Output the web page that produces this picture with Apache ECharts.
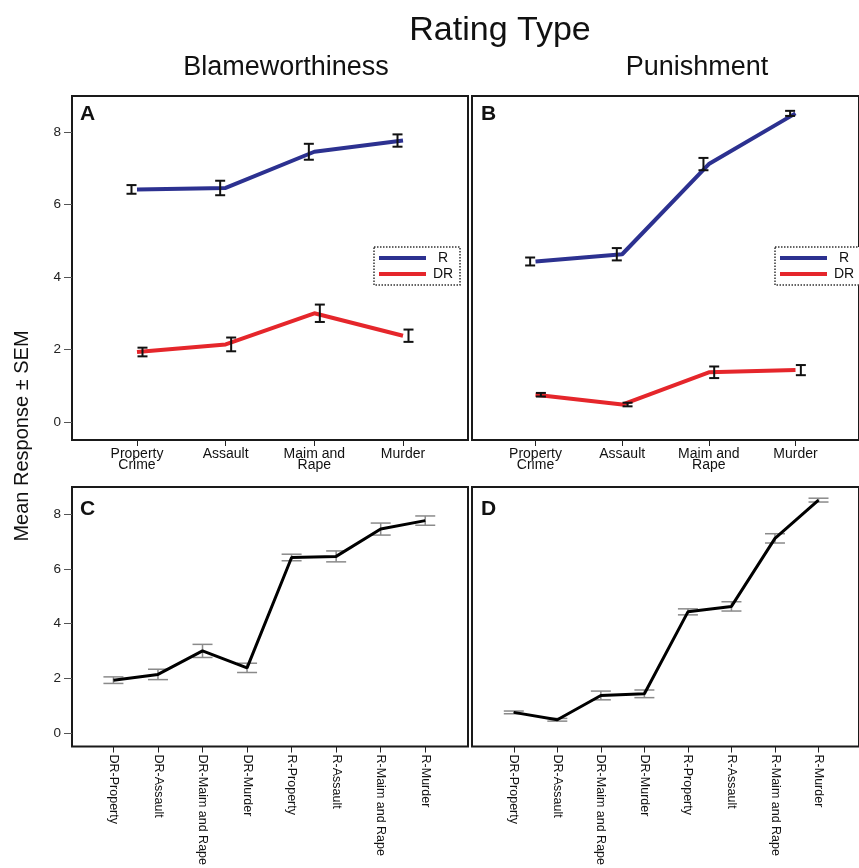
<!DOCTYPE html>
<html>
<head>
<meta charset="utf-8">
<script src="https://cdn.jsdelivr.net/npm/echarts@6/dist/echarts.min.js"></script>
<style>
html,body{margin:0;padding:0;background:#fff;}
#chart{width:859px;height:868px;}
</style>
</head>
<body>
<div id="chart"></div>
<script>
// ---- Data ----
const crimeCategories = ['Property\nCrime', 'Assault', 'Maim and\nRape', 'Murder'];
const comboCategories = ['DR-Property', 'DR-Assault', 'DR-Maim and Rape', 'DR-Murder',
                         'R-Property', 'R-Assault', 'R-Maim and Rape', 'R-Murder'];
const yTicks = [0, 2, 4, 6, 8];

const blameR      = [6.42, 6.46, 7.46, 7.77];
const blameRsem   = [0.12, 0.20, 0.22, 0.17];
const blameDR     = [1.93, 2.14, 3.00, 2.38];
const blameDRsem  = [0.12, 0.19, 0.24, 0.17];

const punR        = [4.43, 4.63, 7.12, 8.52];
const punRsem     = [0.11, 0.17, 0.17, 0.07];
const punDR       = [0.75, 0.48, 1.37, 1.43];
const punDRsem    = [0.05, 0.05, 0.16, 0.14];

// ---- Styling ----
const FONT = "'Liberation Sans', Arial, Helvetica, sans-serif";
const BLUE = '#2c3190';
const RED = '#e5262b';

const chart = echarts.init(document.getElementById('chart'), null, {renderer: 'canvas'});

function pts(vals) { return vals.map((v, i) => [i, v]); }
function errs(vals, sems, off) { return vals.map((v, i) => [i + off, v - sems[i], v + sems[i]]); }

function errSeries(name, idx, data, capW, color, lw) {
  return {
    name: name, type: 'custom', xAxisIndex: idx, yAxisIndex: idx, silent: true, z: 5,
    encode: {x: 0, y: [1, 2]},
    data: data,
    renderItem: function (params, api) {
      const x = api.value(0), lo = api.value(1), hi = api.value(2);
      const a = api.coord([x, lo]), b = api.coord([x, hi]);
      const h = capW / 2;
      const st = {stroke: color, lineWidth: lw};
      return {type: 'group', children: [
        {type: 'line', shape: {x1: a[0], y1: a[1], x2: b[0], y2: b[1]}, style: st},
        {type: 'line', shape: {x1: a[0] - h, y1: a[1], x2: a[0] + h, y2: a[1]}, style: st},
        {type: 'line', shape: {x1: b[0] - h, y1: b[1], x2: b[0] + h, y2: b[1]}, style: st}
      ]};
    }
  };
}

function lineSeries(name, idx, data, color, w, z) {
  return {
    name: name, type: 'line', xAxisIndex: idx, yAxisIndex: idx, data: data,
    symbol: 'none', showSymbol: false, z: z || 3,
    itemStyle: {color: color}, lineStyle: {color: color, width: w},
    emphasis: {disabled: true}
  };
}

function xAxisCrime(idx) {
  return {
    gridIndex: idx, type: 'value', min: -0.733, max: 3.733, position: 'bottom',
    splitLine: {show: false}, axisLine: {show: false, onZero: false},
    axisTick: {show: true, customValues: [0, 1, 2, 3], length: 6, lineStyle: {color: '#222', width: 1}},
    axisLabel: {customValues: [0, 1, 2, 3], formatter: v => crimeCategories[Math.round(v)],
      fontFamily: FONT, fontSize: 14, lineHeight: 11, color: '#111', margin: 9}
  };
}
function xAxisCombo(idx, mn, mx) {
  return {
    gridIndex: idx, type: 'value', min: mn, max: mx, position: 'bottom',
    splitLine: {show: false}, axisLine: {show: false, onZero: false},
    axisTick: {show: true, customValues: [0,1,2,3,4,5,6,7], length: 6, lineStyle: {color: '#222', width: 1}},
    axisLabel: {customValues: [0,1,2,3,4,5,6,7], formatter: v => comboCategories[Math.round(v)],
      rotate: -90, fontFamily: FONT, fontSize: 12.5, color: '#111', margin: 8}
  };
}
function yAxisDef(idx, showLabels) {
  return {
    gridIndex: idx, type: 'value', min: -0.5, max: 9, position: 'left',
    splitLine: {show: false}, axisLine: {show: false, onZero: false},
    axisTick: {show: showLabels, customValues: yTicks, length: 8, lineStyle: {color: '#555', width: 1}},
    axisLabel: {show: showLabels, customValues: yTicks, fontFamily: FONT, fontSize: 13.5, color: '#222', margin: 11}
  };
}

const gridStyle = {show: true, borderColor: '#1a1a1a', borderWidth: 2, backgroundColor: 'transparent', containLabel: false};

function legendDef(left) {
  return {
    data: ['R', 'DR'], orient: 'vertical', left: left, top: 247,
    icon: 'rect', itemWidth: 47, itemHeight: 4, itemGap: 2,
    padding: [4, 5, 4, 5],
    borderColor: '#333', borderWidth: 1.5, borderType: 'dotted', borderRadius: 0,
    backgroundColor: '#fff',
    selectedMode: false,
    formatter: '{a|{name}}',
    textStyle: {fontFamily: FONT, fontSize: 14, color: '#111',
      rich: {a: {width: 24, align: 'center', fontFamily: FONT, fontSize: 14, lineHeight: 16, color: '#111'}}}
  };
}

const comboBlame = blameDR.concat(blameR);
const comboBlameSem = blameDRsem.concat(blameRsem);
const comboPun = punDR.concat(punR);
const comboPunSem = punDRsem.concat(punRsem);

const option = {
  animation: false,
  backgroundColor: '#fff',
  textStyle: {fontFamily: FONT},
  title: [
    {text: 'Rating Type', left: 500, top: 14, textAlign: 'center', padding: 0,
      textStyle: {fontFamily: FONT, fontSize: 34, fontWeight: 'normal', color: '#111'}},
    {text: 'Blameworthiness', left: 286, top: 54, textAlign: 'center', padding: 0,
      textStyle: {fontFamily: FONT, fontSize: 27, fontWeight: 'normal', color: '#111'}},
    {text: 'Punishment', left: 697, top: 54, textAlign: 'center', padding: 0,
      textStyle: {fontFamily: FONT, fontSize: 27, fontWeight: 'normal', color: '#111'}}
  ],
  legend: [legendDef(374), legendDef(775)],
  grid: [
    Object.assign({left: 72, top: 96, width: 396, height: 344}, gridStyle),
    Object.assign({left: 472, top: 96, width: 396, height: 344}, gridStyle),
    Object.assign({left: 72, top: 487, width: 396, height: 268}, gridStyle),
    Object.assign({left: 472, top: 487, width: 396, height: 268}, gridStyle)
  ],
  xAxis: [xAxisCrime(0), xAxisCrime(1), xAxisCombo(2, -0.93, 7.96), xAxisCombo(3, -0.96, 7.93)],
  yAxis: [yAxisDef(0, true), yAxisDef(1, false), yAxisDef(2, true), yAxisDef(3, false)],
  graphic: [
    {type: 'text', x: 22, y: 436, rotation: Math.PI / 2,
      style: {text: 'Mean Response \u00b1 SEM', font: '20px ' + FONT, fill: '#111', textAlign: 'center', textVerticalAlign: 'middle'}},
    {type: 'text', x: 80, y: 104, style: {text: 'A', font: 'bold 21px ' + FONT, fill: '#111'}},
    {type: 'text', x: 481, y: 104, style: {text: 'B', font: 'bold 21px ' + FONT, fill: '#111'}},
    {type: 'text', x: 80, y: 499, style: {text: 'C', font: 'bold 21px ' + FONT, fill: '#111'}},
    {type: 'text', x: 481, y: 499, style: {text: 'D', font: 'bold 21px ' + FONT, fill: '#111'}}
  ],
  series: [
    lineSeries('R', 0, pts(blameR), BLUE, 4),
    lineSeries('DR', 0, pts(blameDR), RED, 4),
    errSeries('errAR', 0, errs(blameR, blameRsem, -0.062), 10, '#111', 2),
    errSeries('errADR', 0, errs(blameDR, blameDRsem, 0.062), 10, '#111', 2),

    lineSeries('R', 1, pts(punR), BLUE, 4),
    lineSeries('DR', 1, pts(punDR), RED, 4),
    errSeries('errBR', 1, errs(punR, punRsem, -0.062), 10, '#111', 2),
    errSeries('errBDR', 1, errs(punDR, punDRsem, 0.062), 10, '#111', 2),

    errSeries('errC', 2, errs(comboBlame, comboBlameSem, 0), 20, '#8a8a8a', 1.5),
    lineSeries('Blame combined', 2, pts(comboBlame), '#000', 3, 6),

    errSeries('errD', 3, errs(comboPun, comboPunSem, 0), 20, '#8a8a8a', 1.5),
    lineSeries('Punishment combined', 3, pts(comboPun), '#000', 3, 6)
  ]
};
chart.setOption(option);
</script>
</body>
</html>
